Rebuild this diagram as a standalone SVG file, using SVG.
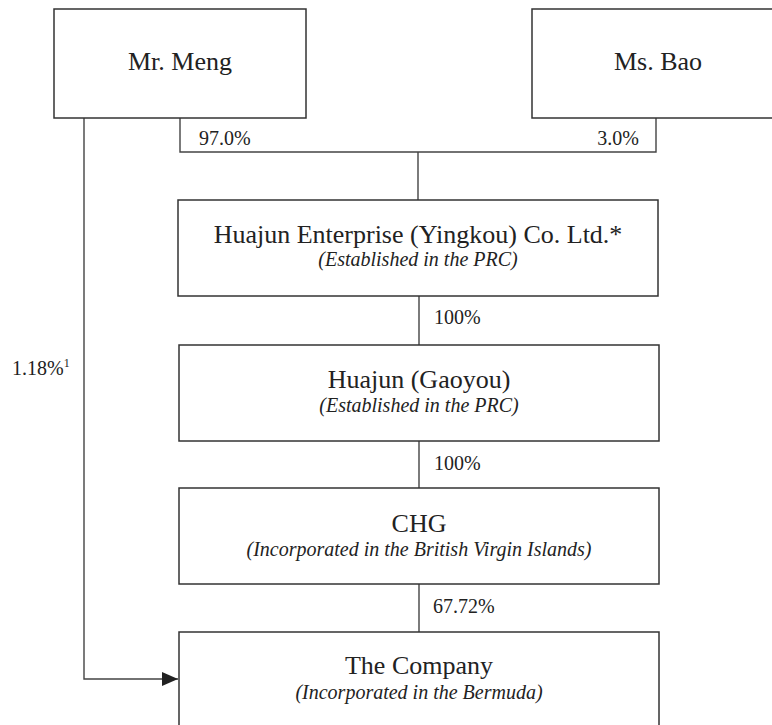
<svg xmlns="http://www.w3.org/2000/svg" width="772" height="725" viewBox="0 0 772 725" font-family="'Liberation Serif', 'Times New Roman', 'DejaVu Serif', serif">
<style>
.box{fill:#fff;stroke:#333;stroke-width:1.5}
.ln{fill:none;stroke:#444;stroke-width:1.4}
text{font-family:'Liberation Serif','Times New Roman','DejaVu Serif',serif;fill:#222}
.m{font-size:26px;text-anchor:middle}
.s{font-size:20px;font-style:italic;text-anchor:middle}
.p{font-size:20px}
</style>
<defs>
<marker id="ah" markerWidth="16" markerHeight="14" refX="16" refY="7" orient="auto" markerUnits="userSpaceOnUse">
<path d="M0,0 L16,7 L0,14 Z" fill="#222"/>
</marker>
</defs>
<rect width="772" height="725" fill="#fff"/>
<g id="connectors">
<polyline class="ln" points="180,118 180,152 656,152 656,118"/>
<line class="ln" x1="418" y1="152" x2="418" y2="200"/>
<line class="ln" x1="419" y1="296" x2="419" y2="345"/>
<line class="ln" x1="419" y1="441" x2="419" y2="488"/>
<line class="ln" x1="419" y1="584" x2="419" y2="632"/>
<polyline class="ln" points="84,118 84,679 178,679" marker-end="url(#ah)"/>
<text class="p" x="199" y="145">97.0%</text>
<text class="p" x="639" y="145" text-anchor="end">3.0%</text>
<text class="p" x="434" y="324">100%</text>
<text class="p" x="434" y="470">100%</text>
<text class="p" x="433" y="613">67.72%</text>
<text class="p" x="12" y="375">1.18%<tspan font-size="12" dy="-8">1</tspan></text>
</g>
<g id="mr-meng">
<rect class="box" x="54" y="9" width="252" height="109"/>
<text class="m" x="180" y="70">Mr. Meng</text>
</g>
<g id="ms-bao">
<rect class="box" x="532" y="9" width="252" height="109"/>
<text class="m" x="658" y="70">Ms. Bao</text>
</g>
<g id="huajun-yingkou">
<rect class="box" x="178" y="200" width="480" height="96"/>
<text class="m" x="418" y="243">Huajun Enterprise (Yingkou) Co. Ltd.*</text>
<text class="s" x="418" y="266">(Established in the PRC)</text>
</g>
<g id="huajun-gaoyou">
<rect class="box" x="179" y="345" width="480" height="96"/>
<text class="m" x="419" y="388">Huajun (Gaoyou)</text>
<text class="s" x="419" y="412">(Established in the PRC)</text>
</g>
<g id="chg">
<rect class="box" x="179" y="488" width="480" height="96"/>
<text class="m" x="419" y="532">CHG</text>
<text class="s" x="419" y="556">(Incorporated in the British Virgin Islands)</text>
</g>
<g id="company">
<rect class="box" x="179" y="632" width="480" height="100"/>
<text class="m" x="419" y="674">The Company</text>
<text class="s" x="419" y="699">(Incorporated in the Bermuda)</text>
</g>
</svg>
